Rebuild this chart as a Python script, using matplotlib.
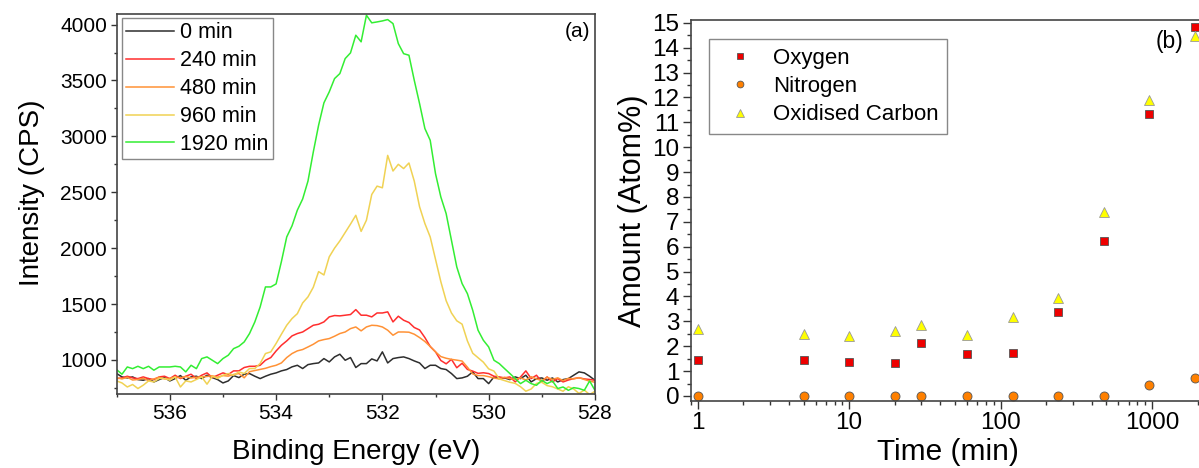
import numpy as np
import matplotlib
matplotlib.use("Agg")
import matplotlib.pyplot as plt
from matplotlib.ticker import MultipleLocator, LogLocator, NullFormatter

plt.rcParams['font.family'] = ['Liberation Sans', 'DejaVu Sans']

# ---- panel (a): O 1s spectra, 537 -> 528 eV in 0.1 eV steps ----
energy = np.linspace(537.0, 528.0, 91)

spec_0 = [878, 848, 839, 848, 824, 818, 833, 803, 824, 842,
          812, 833, 860, 818, 848, 854, 833, 863, 842, 824,
          794, 812, 860, 842, 872, 878, 854, 833, 854, 872,
          884, 902, 914, 938, 952, 923, 958, 967, 973, 1012,
          982, 1027, 1051, 997, 1021, 932, 967, 967, 1009, 991,
          1072, 973, 1012, 1021, 1027, 1012, 991, 973, 923, 952,
          952, 923, 914, 878, 833, 839, 854, 893, 833, 833,
          788, 848, 833, 839, 824, 848, 833, 863, 803, 833,
          839, 818, 839, 803, 824, 833, 863, 893, 884, 854,
          818]
spec_240 = [833, 839, 854, 839, 833, 848, 833, 824, 848, 854,
            833, 863, 833, 854, 872, 833, 863, 884, 842, 863,
            884, 869, 902, 902, 932, 943, 943, 952, 997, 1021,
            1080, 1131, 1170, 1215, 1236, 1250, 1280, 1310, 1319, 1340,
            1385, 1397, 1394, 1400, 1406, 1450, 1400, 1400, 1385, 1420,
            1420, 1430, 1340, 1391, 1355, 1335, 1290, 1268, 1200, 1120,
            1072, 995, 965, 1005, 930, 970, 915, 900, 880, 885,
            878, 854, 848, 839, 848, 803, 848, 902, 833, 863,
            803, 848, 803, 833, 803, 820, 833, 840, 830, 825,
            818]
spec_480 = [840, 830, 845, 820, 825, 835, 815, 830, 845, 830,
            835, 848, 840, 852, 838, 845, 848, 852, 858, 845,
            860, 855, 870, 878, 840, 895, 905, 915, 925, 940,
            952, 973, 1021, 1057, 1081, 1093, 1116, 1140, 1170, 1182,
            1191, 1212, 1236, 1250, 1280, 1295, 1260, 1295, 1310, 1307,
            1295, 1266, 1221, 1250, 1250, 1248, 1230, 1200, 1165, 1120,
            1072, 1030, 1015, 1005, 998, 990, 935, 875, 860, 860,
            850, 838, 830, 845, 832, 826, 840, 820, 850, 830,
            815, 845, 825, 840, 815, 835, 830, 842, 825, 810,
            800]
spec_960 = [812, 794, 758, 780, 744, 774, 812, 803, 834, 834,
            818, 848, 758, 812, 803, 825, 848, 783, 854, 834,
            863, 878, 863, 893, 878, 923, 923, 968, 1057, 1072,
            1147, 1230, 1310, 1370, 1414, 1510, 1564, 1650, 1790, 1760,
            1922, 2000, 2065, 2140, 2215, 2294, 2150, 2250, 2480, 2555,
            2540, 2830, 2690, 2750, 2712, 2762, 2600, 2370, 2220, 2100,
            1900, 1700, 1530, 1420, 1350, 1320, 1170, 1060, 1020, 980,
            920, 900, 830, 815, 800, 790, 760, 720, 740, 790,
            800, 770, 760, 740, 720, 760, 740, 700, 730, 690,
            720]
spec_1920 = [913, 872, 937, 922, 943, 922, 943, 908, 937, 937,
             937, 943, 937, 893, 952, 922, 1012, 1027, 997, 967,
             1012, 1042, 1101, 1122, 1161, 1236, 1340, 1474, 1653, 1653,
             1680, 1880, 2100, 2200, 2340, 2440, 2600, 2860, 3100, 3300,
             3398, 3517, 3562, 3696, 3747, 3905, 3846, 4084, 4016, 4024,
             4033, 4045, 4009, 3830, 3740, 3726, 3502, 3293, 3070, 2965,
             2666, 2458, 2309, 2070, 1832, 1683, 1593, 1444, 1266, 1176,
             1116, 997, 967, 922, 878, 833, 788, 818, 788, 773,
             818, 788, 812, 744, 758, 728, 752, 744, 728, 812,
             728]

spec_labels = ["0 min", "240 min", "480 min", "960 min", "1920 min"]
spec_colors = ["#2e2e2e", "#ff2e2e", "#ff9236", "#f0d254", "#33ee33"]

# ---- panel (b): composition vs time ----
time_min = [1, 5, 10, 20, 30, 60, 120, 240, 480, 960, 1920]
oxygen = [1.43, 1.46, 1.37, 1.31, 2.14, 1.70, 1.73, 3.37, 6.21, 11.35, 14.83]
nitrogen = [0, 0, 0, 0, 0, 0, 0, 0, 0, 0.43, 0.71]
ox_carbon = [2.70, 2.48, 2.42, 2.61, 2.84, 2.44, 3.17, 3.92, 7.39, 11.89, 14.46]

fig = plt.figure(figsize=(11.99, 4.68), dpi=100)

# panel (a)
ax1 = fig.add_axes([0.0973, 0.1581, 0.3989, 0.8120])
spectra = [spec_0, spec_240, spec_480, spec_960, spec_1920]
for ys, lab, col in zip(spectra, spec_labels, spec_colors):
    ax1.plot(energy, ys, color=col, lw=1.1, label=lab)
ax1.set_xlim(537, 528)
ax1.set_ylim(695, 4095)
ax1.xaxis.set_major_locator(MultipleLocator(2))
ax1.xaxis.set_minor_locator(MultipleLocator(1))
ax1.yaxis.set_major_locator(MultipleLocator(500))
ax1.yaxis.set_minor_locator(MultipleLocator(250))
ax1.tick_params(which='both', direction='out', labelsize=15, width=1, color='#333333')
ax1.tick_params(which='major', length=4, pad=3)
ax1.tick_params(which='minor', length=2.5)
for sp in ax1.spines.values():
    sp.set_linewidth(1.2)
    sp.set_color('#444444')
ax1.set_xlabel("Binding Energy (eV)", fontsize=20)
ax1.set_ylabel("Intensity (CPS)", fontsize=20)
ax1.xaxis.set_label_coords(0.5, -0.118)
ax1.yaxis.set_label_coords(-0.150, 0.53)
ax1.text(0.99, 0.953, "(a)", transform=ax1.transAxes, ha='right', va='center', fontsize=15)
leg1 = ax1.legend(loc='upper left', bbox_to_anchor=(0.011, 0.989), borderaxespad=0,
                  fontsize=15.5, handlelength=2.2, handletextpad=0.3, borderpad=0.2,
                  labelspacing=0.32, fancybox=False, framealpha=1)
leg1.get_frame().set_edgecolor('#888888')
leg1.get_frame().set_linewidth(1.0)

# panel (b)
ax2 = fig.add_axes([0.5759, 0.1438, 0.4451, 0.8128])
ax2.plot(time_min, oxygen, ls='none', marker='s', ms=6.2, mfc='#ee0000', mec='#555555',
         mew=0.6, label="Oxygen")
ax2.plot(time_min, nitrogen, ls='none', marker='o', ms=6.5, mfc='#ff8000', mec='#555555',
         mew=0.6, label="Nitrogen")
ax2.plot(time_min, ox_carbon, ls='none', marker='^', ms=7.8, mfc='#ffff00', mec='#999999',
         mew=0.6, label="Oxidised Carbon")
ax2.set_xscale('log')
ax2.set_xlim(0.895, 3000)
ax2.set_ylim(-0.19, 15.1)
ax2.set_xticks([1, 10, 100, 1000])
ax2.set_xticklabels(["1", "10", "100", "1000"])
ax2.xaxis.set_minor_locator(LogLocator(base=10, subs=np.arange(2, 10)))
ax2.xaxis.set_minor_formatter(NullFormatter())
ax2.yaxis.set_major_locator(MultipleLocator(1))
ax2.yaxis.set_minor_locator(MultipleLocator(0.5))
ax2.tick_params(which='both', direction='out', labelsize=17.5, width=1, color='#333333')
ax2.tick_params(which='major', length=5.5, pad=2.5)
ax2.tick_params(which='minor', length=3)
for sp in ax2.spines.values():
    sp.set_linewidth(1.2)
    sp.set_color('#444444')
ax2.set_xlabel("Time (min)", fontsize=21.5)
ax2.set_ylabel("Amount (Atom%)", fontsize=22)
ax2.xaxis.set_label_coords(0.4825, -0.098)
ax2.yaxis.set_label_coords(-0.080, 0.5)
ax2.text(0.898, 0.944, "(b)", transform=ax2.transAxes, ha='center', va='center', fontsize=16.5)
leg2 = ax2.legend(loc='upper left', bbox_to_anchor=(0.0352, 0.950), borderaxespad=0,
                  fontsize=16, handletextpad=0.5, labelspacing=0.33, borderpad=0.38,
                  markerscale=0.75, fancybox=False, framealpha=1)
leg2.get_frame().set_edgecolor('#888888')
leg2.get_frame().set_linewidth(1.0)

fig.savefig("out.png", dpi=100)
